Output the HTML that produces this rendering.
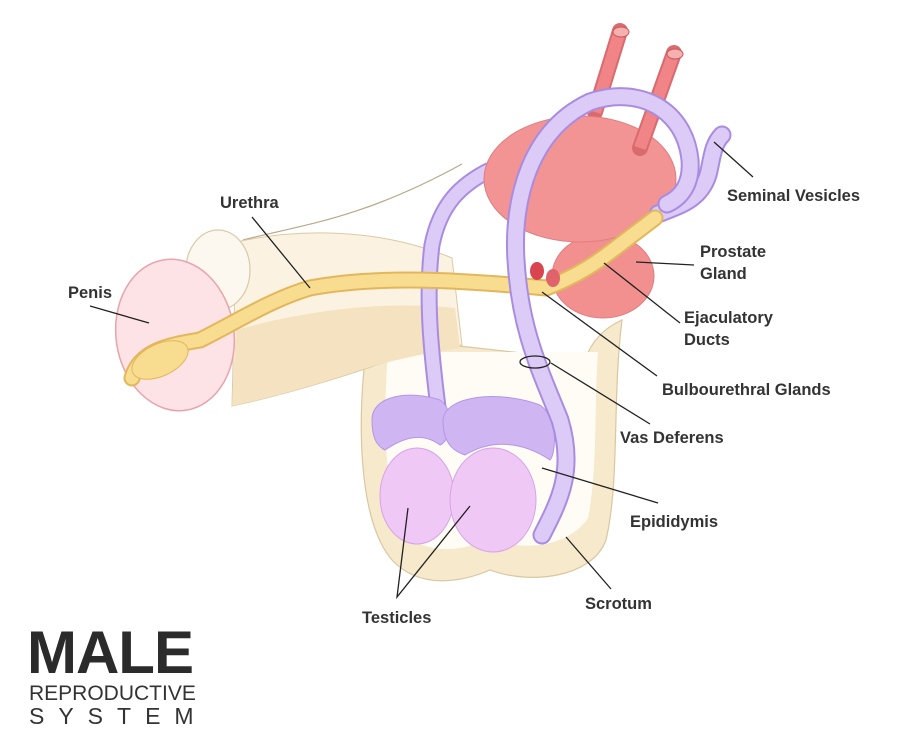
<!DOCTYPE html>
<html><head><meta charset="utf-8"><style>
html,body{margin:0;padding:0;background:#fff;}
svg{display:block}
text{font-family:"Liberation Sans",sans-serif;font-weight:bold;font-size:16.5px;fill:#333}
</style></head><body>
<svg width="902" height="756" viewBox="0 0 902 756" xmlns="http://www.w3.org/2000/svg">
<path d="M243,240 C300,225 360,220 462,164" fill="none" stroke="#b8a98a" stroke-width="1.2"/>
<!-- scrotum -->
<path d="M368,335 C356,420 358,520 392,560 C420,590 462,582 490,570 C530,585 592,578 606,540 C620,480 612,400 622,320 C600,330 590,345 585,360 L450,345 L440,330 Z" fill="#f6e9cc" stroke="#d9c7a0" stroke-width="1.2"/>
<path d="M388,352 C382,430 384,505 412,540 C440,556 470,548 490,538 C520,552 568,548 588,518 C598,470 594,400 598,352 Z" fill="#fffcf5"/>
<!-- shaft -->
<path d="M236,242 C300,228 380,228 452,258 L462,345 C420,352 390,360 368,368 C320,384 270,398 232,406 Z" fill="#fbf2e2" stroke="#dccaa5" stroke-width="1"/>
<path d="M236,330 C300,312 380,300 455,308 L460,348 C412,355 380,364 360,370 C320,384 270,398 232,406 Z" fill="#f4e2c0"/>
<ellipse cx="218" cy="270" rx="32" ry="40" fill="#fdf8ef" stroke="#d8c9a8" stroke-width="1.2"/>
<ellipse cx="175" cy="335" rx="59" ry="76" transform="rotate(-8 175 335)" fill="#fde3e6" stroke="#e8a3ac" stroke-width="1.5"/>
<!-- prostate -->
<ellipse cx="603" cy="276" rx="51" ry="42" fill="#f29090" stroke="#e07c80" stroke-width="1"/>
<line x1="620" y1="31" x2="595" y2="112" stroke="#d96a6e" stroke-width="16" stroke-linecap="round"/>
<line x1="620" y1="31" x2="595" y2="112" stroke="#f08486" stroke-width="12"/>
<ellipse cx="621" cy="32" rx="8" ry="5" fill="#f6b0b0" stroke="#c85a60"/>
<path d="M439,415 C432,360 425,300 432,245 C440,205 460,185 490,170" fill="none" stroke="#a98ce0" stroke-width="17"/>
<path d="M439,415 C432,360 425,300 432,245 C440,205 460,185 490,170" fill="none" stroke="#dccbf7" stroke-width="13"/>
<!-- bladder -->
<ellipse cx="580" cy="179" rx="96" ry="63" fill="#f29494" stroke="#e07c80" stroke-width="1"/>
<line x1="674" y1="53" x2="640" y2="148" stroke="#d96a6e" stroke-width="16" stroke-linecap="round"/>
<line x1="674" y1="53" x2="640" y2="148" stroke="#f08486" stroke-width="12"/>
<ellipse cx="675" cy="54" rx="8" ry="5" fill="#f6b0b0" stroke="#c85a60"/>
<path d="M658,214 C680,205 700,200 708,175 C712,160 712,145 722,135" fill="none" stroke="#a98ce0" stroke-width="19" stroke-linecap="round"/>
<path d="M658,214 C680,205 700,200 708,175 C712,160 712,145 722,135" fill="none" stroke="#dccbf7" stroke-width="15" stroke-linecap="round"/>
<!-- urethra -->
<path d="M132,378 C140,350 170,345 200,340 C240,320 270,300 310,288 C380,275 460,280 546,288 C580,275 600,260 613,250 L655,218" fill="none" stroke="#e2b75c" stroke-width="17" stroke-linecap="round"/>
<path d="M132,378 C140,350 170,345 200,340 C240,320 270,300 310,288 C380,275 460,280 546,288 C580,275 600,260 613,250 L655,218" fill="none" stroke="#f8dc90" stroke-width="13" stroke-linecap="round"/>
<ellipse cx="160" cy="360" rx="30" ry="16" transform="rotate(-25 160 360)" fill="#f8dc90" stroke="#e2b75c"/>
<ellipse cx="537" cy="271" rx="7" ry="9" fill="#d9454f"/>
<ellipse cx="553" cy="278" rx="7" ry="9" fill="#e0626a"/>
<!-- testicles -->
<ellipse cx="417" cy="496" rx="37" ry="48" fill="#f0c8f6" stroke="#d6a3e6"/>
<ellipse cx="493" cy="500" rx="43" ry="52" fill="#f0c8f6" stroke="#d6a3e6"/>
<path d="M372,420 C372,395 410,390 440,400 C455,410 452,440 440,445 C420,430 400,440 385,450 C375,445 372,435 372,420 Z" fill="#cfb6f3" stroke="#b396e6"/>
<path d="M443,420 C445,395 500,390 540,405 C560,420 555,455 550,460 C520,440 490,440 465,455 C450,450 443,440 443,420 Z" fill="#cfb6f3" stroke="#b396e6"/>
<path d="M542,535 C560,500 575,470 560,420 C540,370 520,330 516,260 C512,200 530,130 590,102 C640,85 685,110 690,160 C692,185 680,198 667,204" fill="none" stroke="#a98ce0" stroke-width="19" stroke-linecap="round"/>
<path d="M542,535 C560,500 575,470 560,420 C540,370 520,330 516,260 C512,200 530,130 590,102 C640,85 685,110 690,160 C692,185 680,198 667,204" fill="none" stroke="#dccbf7" stroke-width="15" stroke-linecap="round"/>
<g stroke="#222" stroke-width="1.3" fill="none">
<line x1="90" y1="306" x2="149" y2="323"/>
<line x1="252" y1="217" x2="310" y2="288"/>
<line x1="714" y1="142" x2="753" y2="177"/>
<line x1="636" y1="262" x2="694" y2="265"/>
<line x1="604" y1="263" x2="680" y2="323"/>
<line x1="542" y1="292" x2="657" y2="376"/>
<ellipse cx="535" cy="362" rx="15" ry="6"/>
<line x1="551" y1="363" x2="650" y2="424"/>
<line x1="542" y1="468" x2="658" y2="503"/>
<line x1="566" y1="537" x2="611" y2="589"/>
<polyline points="408,508 397,597 470,506"/>
</g>
<text x="68" y="298">Penis</text>
<text x="220" y="208">Urethra</text>
<text x="727" y="201">Seminal Vesicles</text>
<text x="700" y="257">Prostate</text>
<text x="700" y="279">Gland</text>
<text x="684" y="323">Ejaculatory</text>
<text x="684" y="345">Ducts</text>
<text x="662" y="395">Bulbourethral Glands</text>
<text x="620" y="443">Vas Deferens</text>
<text x="630" y="527">Epididymis</text>
<text x="585" y="609">Scrotum</text>
<text x="362" y="623">Testicles</text>
<text x="27" y="673" style="font-size:60px;fill:#2b2b2b;letter-spacing:-1px">MALE</text>
<text x="29" y="700" style="font-size:21px;font-weight:normal;fill:#333">REPRODUCTIVE</text>
<text x="29" y="724" style="font-size:23px;font-weight:normal;fill:#333;letter-spacing:14px">SYSTEM</text>
</svg>
</body></html>
